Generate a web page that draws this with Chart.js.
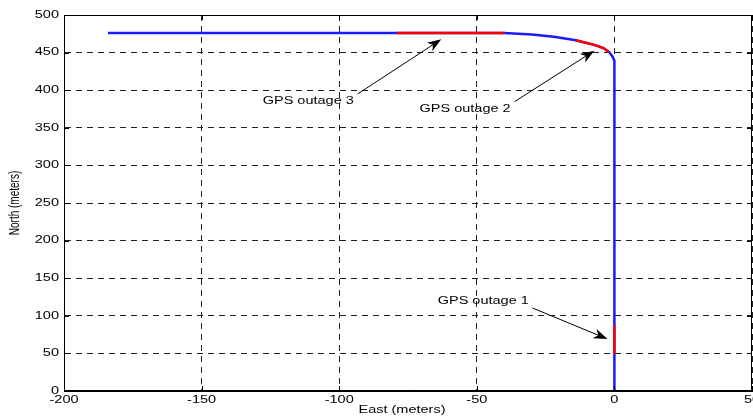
<!DOCTYPE html>
<html>
<head>
<meta charset="utf-8">
<script src="https://cdn.jsdelivr.net/npm/chart.js@4/dist/chart.umd.min.js"></script>
<style>
  html, body { margin: 0; padding: 0; background: #fff; }
  canvas { display: block; }
</style>
</head>
<body>
<canvas id="c" width="753" height="417"></canvas>
<script>
// ---- Data ----
const pathEast  = [-184, -79, -40, -30, -22, -14, -7, -4, -2, -0.7, 0, 0, 0, 0];
const pathNorth = [476, 476, 476, 474, 471, 466.5, 460, 456, 451, 445, 439, 87, 49, 0];

const outage1East  = [0, 0];
const outage1North = [87, 49];
const outage2East  = [-14, -7, -4, -2];
const outage2North = [466.5, 460, 456, 451];
const outage3East  = [-79, -40];
const outage3North = [476, 476];

const xTicks = [-200, -150, -100, -50, 0, 50];
const yTicks = [0, 50, 100, 150, 200, 250, 300, 350, 400, 450, 500];

const xTitle = 'East (meters)';
const yTitle = 'North (meters)';

// annotation labels and arrows, in data units
const annLabels     = ['GPS outage 1', 'GPS outage 2', 'GPS outage 3'];
const annLabelEast  = [-64.2, -70.8, -127.8];
const annLabelNorth = [120, 375, 385.6];
const arrowTailEast  = [-29.8, -36.3, -93.3];
const arrowTailNorth = [110.4, 384.7, 395];
const arrowHeadEast  = [-2.5, -7.3, -62.9];
const arrowHeadNorth = [69.1, 452.5, 467.7];

const toPts = (xs, ys) => xs.map((x, i) => ({x: x, y: ys[i]}));

const FONT = '10px "Liberation Sans", Arial, sans-serif';
const SX = 1.45; // horizontal text stretch seen in the reference

function stretchedText(ctx, text, x, y, align) {
  ctx.save();
  ctx.translate(x, y);
  ctx.scale(SX, 1);
  ctx.textAlign = align;
  ctx.textBaseline = 'middle';
  ctx.fillText(text, 0, 0);
  ctx.restore();
}

function drawArrow(ctx, x1, y1, x2, y2) {
  const dx = x2 - x1, dy = y2 - y1;
  const len = Math.hypot(dx, dy);
  const ux = dx / len, uy = dy / len;
  const nx = -uy, ny = ux;
  const hl = 14, hw = 5, notch = 4;
  const bx = x2 - ux * hl, by = y2 - uy * hl;
  ctx.beginPath();
  ctx.moveTo(x1, y1);
  ctx.lineTo(x2 - ux * (hl - notch), y2 - uy * (hl - notch));
  ctx.stroke();
  ctx.beginPath();
  ctx.moveTo(x2, y2);
  ctx.lineTo(bx + nx * hw, by + ny * hw);
  ctx.lineTo(x2 - ux * (hl - notch), y2 - uy * (hl - notch));
  ctx.lineTo(bx - nx * hw, by - ny * hw);
  ctx.closePath();
  ctx.fill();
}

const decor = {
  id: 'decor',
  afterDraw(chart) {
    const ctx = chart.ctx;
    const a = chart.chartArea;
    const xs = chart.scales.x, ys = chart.scales.y;
    ctx.save();
    ctx.strokeStyle = '#000';
    ctx.fillStyle = '#000';
    ctx.lineWidth = 1;
    // box
    ctx.strokeRect(Math.round(a.left) + 0.5, Math.round(a.top) + 0.5,
                   Math.round(a.right - a.left) - 1, Math.round(a.bottom - a.top) - 1);
    // inward ticks
    ctx.beginPath();
    xTicks.forEach(v => {
      const p = Math.round(xs.getPixelForValue(v)) + 0.5;
      ctx.moveTo(p, a.bottom); ctx.lineTo(p, a.bottom - 5);
      ctx.moveTo(p, a.top); ctx.lineTo(p, a.top + 5);
    });
    yTicks.forEach(v => {
      const p = Math.round(ys.getPixelForValue(v)) + 0.5;
      ctx.moveTo(a.left, p); ctx.lineTo(a.left + 5, p);
      ctx.moveTo(a.right, p); ctx.lineTo(a.right - 5, p);
    });
    ctx.stroke();
    // tick labels
    ctx.font = FONT;
    xTicks.forEach(v => stretchedText(ctx, String(v), xs.getPixelForValue(v), a.bottom + 9, 'center'));
    yTicks.forEach(v => stretchedText(ctx, String(v), a.left - 5, ys.getPixelForValue(v), 'right'));
    // axis titles
    stretchedText(ctx, xTitle, (a.left + a.right) / 2 - 6, a.bottom + 19, 'center');
    ctx.save();
    ctx.translate(15, (a.top + a.bottom) / 2);
    ctx.rotate(-Math.PI / 2);
    ctx.scale(1, SX);
    ctx.textAlign = 'center';
    ctx.textBaseline = 'middle';
    ctx.fillText(yTitle, 0, 0);
    ctx.restore();
    // annotations
    annLabels.forEach((t, i) => {
      stretchedText(ctx, t, xs.getPixelForValue(annLabelEast[i]), ys.getPixelForValue(annLabelNorth[i]), 'left');
      drawArrow(ctx,
        xs.getPixelForValue(arrowTailEast[i]), ys.getPixelForValue(arrowTailNorth[i]),
        xs.getPixelForValue(arrowHeadEast[i]), ys.getPixelForValue(arrowHeadNorth[i]));
    });
    ctx.restore();
  }
};

const lineDs = (label, pts, color) => ({
  label: label, data: pts, showLine: true, borderColor: color, backgroundColor: color,
  borderWidth: 2.5, pointRadius: 0, fill: false, tension: 0
});

new Chart(document.getElementById('c'), {
  type: 'scatter',
  data: {
    datasets: [
      lineDs('GPS outage 1', toPts(outage1East, outage1North), '#ff0000'),
      lineDs('GPS outage 2', toPts(outage2East, outage2North), '#ff0000'),
      lineDs('GPS outage 3', toPts(outage3East, outage3North), '#ff0000'),
      lineDs('Trajectory', toPts(pathEast, pathNorth), '#1a1aff')
    ]
  },
  options: {
    responsive: false,
    animation: false,
    devicePixelRatio: 1,
    layout: { padding: { left: 64, top: 15, right: 1, bottom: 26 } },
    plugins: { legend: { display: false }, tooltip: { enabled: false } },
    scales: {
      x: {
        type: 'linear', min: -200, max: 50,
        afterBuildTicks: s => { s.ticks = xTicks.map(v => ({value: v})); },
        ticks: { display: false },
        grid: { color: '#222', lineWidth: 1, drawTicks: false, tickLength: 0 },
        border: { display: true, color: '#000', width: 1, dash: [6, 5] }
      },
      y: {
        type: 'linear', min: 0, max: 500,
        afterBuildTicks: s => { s.ticks = yTicks.map(v => ({value: v})); },
        ticks: { display: false },
        grid: { color: '#222', lineWidth: 1, drawTicks: false, tickLength: 0 },
        border: { display: true, color: '#000', width: 1, dash: [6, 5] }
      }
    }
  },
  plugins: [decor]
});
</script>
</body>
</html>
